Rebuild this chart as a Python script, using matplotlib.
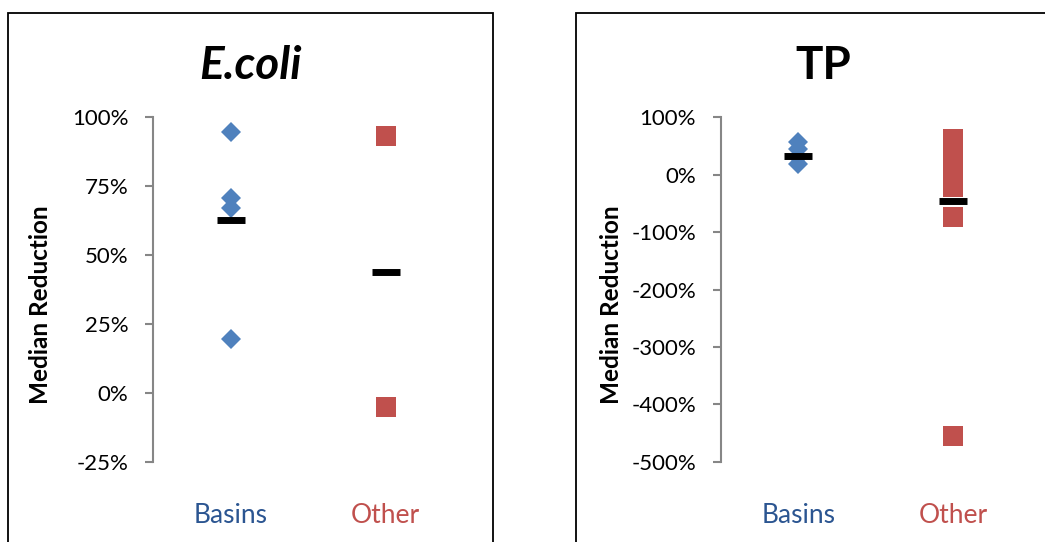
import matplotlib.pyplot as plt
from matplotlib.patches import Rectangle
from matplotlib.ticker import FuncFormatter

plt.rcParams["font.family"] = ["Lato", "DejaVu Sans"]

categories = ["Basins", "Other"]

# E.coli median reductions (fractions)
ecoli_basins = [0.946, 0.707, 0.669, 0.195]
ecoli_other = [0.931, -0.051]
ecoli_medians = [0.628, 0.438]
ecoli_ticks = [1.0, 0.75, 0.5, 0.25, 0.0, -0.25]

# TP median reductions
tp_basins = [0.57, 0.45, 0.30, 0.19]
tp_other = [0.63, 0.55, 0.45, 0.30, 0.15, 0.0, -0.21, -0.73, -4.56]
tp_medians = [0.33, -0.45]
tp_ticks = [1.0, 0.0, -1.0, -2.0, -3.0, -4.0, -5.0]

BLUE = "#4F81BD"
RED = "#C0504D"
GREY = "#868686"
W, H = 1045, 542


def pct(v, pos):
    return f"{v*100:.0f}%"


def draw_panel(ax, title, italic, basins, other, medians, ticks, title_x, ylab_x):
    ax.plot([1] * len(basins), basins, "D", color=BLUE, markersize=10.2, mew=0, zorder=3)
    ax.plot([2] * len(other), other, "s", color=RED, markersize=14.4, mew=0, zorder=3)
    ax.plot([1, 2], medians, "_", color="black", markersize=20, mew=5, zorder=4, ls="none")
    ax.set_xlim(0.5, 2.5)
    ax.set_ylim(min(ticks), max(ticks))
    ax.set_yticks(ticks)
    ax.yaxis.set_major_formatter(FuncFormatter(pct))
    for s in ["top", "right", "bottom"]:
        ax.spines[s].set_visible(False)
    ax.spines["left"].set_color(GREY)
    ax.spines["left"].set_linewidth(1.5)
    ax.tick_params(axis="y", direction="out", length=5.8, width=1.5, color=GREY,
                   labelsize=16, pad=12)
    ax.set_xticks([1, 2])
    ax.set_xticklabels(categories, fontsize=19)
    ax.tick_params(axis="x", length=0, pad=30)
    for lbl, c in zip(ax.get_xticklabels(), ["#2B5591", RED]):
        lbl.set_color(c)
    ax.set_ylabel("Median Reduction", fontsize=17.5, fontweight="bold")
    ax.yaxis.set_label_coords(ylab_x, 0.455)
    # chart title
    fig.text(title_x / W, 1 - 79 / H, title, fontsize=33, fontweight="bold",
             fontstyle="italic" if italic else "normal", ha="center", va="baseline")


fig = plt.figure(figsize=(10.45, 5.42), dpi=100)

ax1 = fig.add_axes([153 / W, 1 - 461.7 / H, 310 / W, 344.4 / H])
ax2 = fig.add_axes([720.7 / W, 1 - 461.7 / H, 310 / W, 344.4 / H])

draw_panel(ax1, "E.coli", True, ecoli_basins, ecoli_other, ecoli_medians, ecoli_ticks, 250, -0.326)
draw_panel(ax2, "TP", False, tp_basins, tp_other, tp_medians, tp_ticks, 823, -0.315)

# outer chart borders
fig.patches.append(Rectangle((8 / W, -0.05), 485 / W, 1.05 - 13 / H, transform=fig.transFigure,
                             fill=False, ec="black", lw=1.3))
fig.patches.append(Rectangle((576 / W, -0.05), 0.5, 1.05 - 13 / H, transform=fig.transFigure,
                             fill=False, ec="black", lw=1.3))

fig.savefig("out.png", dpi=100)
